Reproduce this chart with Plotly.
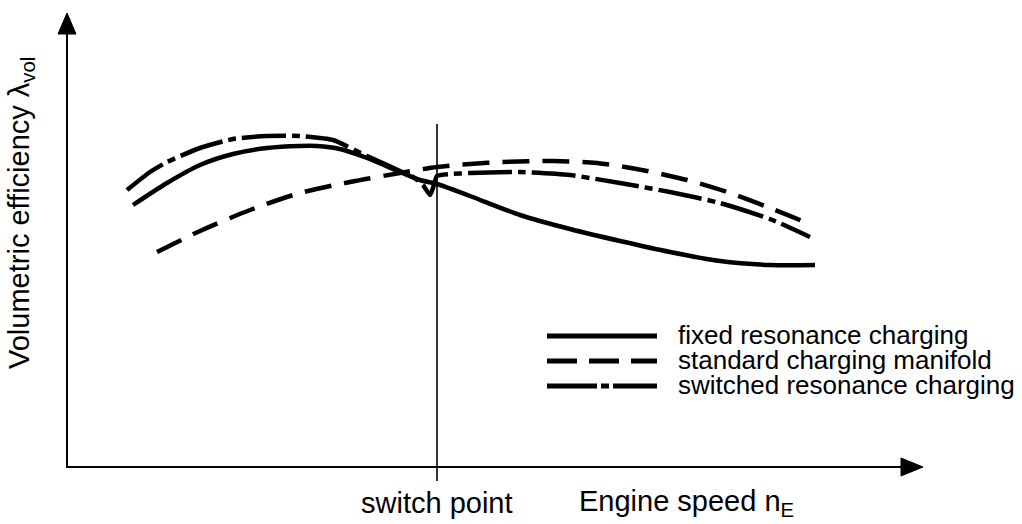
import plotly.graph_objects as go

# ---- data (schematic units: engine speed offset, volumetric efficiency offset) ----
fixed_x = [66, 100, 133, 166, 200, 233, 250, 273, 300, 333, 353, 370, 403, 453, 503, 553, 603, 653, 703, 748]
fixed_y = [262, 284, 302, 313, 319, 321, 321, 318, 309, 295, 287, 283, 271, 252, 238, 226, 215, 206, 202, 202]

standard_x = [90, 133, 183, 233, 283, 333, 370, 403, 436, 486, 530, 580, 620, 660, 703, 745]
standard_y = [215, 236, 257, 274, 285, 294, 300, 303, 305, 306, 304, 296, 287, 275, 259, 242]

switched_x = [60, 83, 100, 133, 166, 200, 233, 266, 300, 333, 346, 356, 363, 366, 370, 383, 403, 453, 503, 553, 603, 653, 703, 743]
switched_y = [277, 295, 305, 319, 328, 331, 331, 327, 311, 296, 290, 282, 272, 279, 291, 293, 294, 295, 292, 284, 275, 264, 248, 230]

switch_point_x = 370
series_names = ["fixed resonance charging", "standard charging manifold", "switched resonance charging"]

# ---- figure geometry ----
W, H = 1022, 524
X0, Y0 = 67, 467  # pixel position of the origin


def px(x):  # pixel x -> data x
    return x - X0


def py(y):  # pixel y -> data y
    return Y0 - y


FONT = "Liberation Sans, Arial, Helvetica, sans-serif"
LW = 4.5
DASH = "27px,13px"
DASHDOT = "44px,6px,8px,6px"

fig = go.Figure()
fig.add_trace(go.Scatter(x=fixed_x, y=fixed_y, mode="lines", name=series_names[0],
                         line=dict(color="black", width=LW, shape="spline", smoothing=0.8)))
fig.add_trace(go.Scatter(x=standard_x, y=standard_y, mode="lines", name=series_names[1],
                         line=dict(color="black", width=LW, dash=DASH, shape="spline", smoothing=0.8)))
fig.add_trace(go.Scatter(x=switched_x, y=switched_y, mode="lines", name=series_names[2],
                         line=dict(color="black", width=LW, dash=DASHDOT, shape="spline", smoothing=0.5)))

shapes = []
# axes lines
shapes.append(dict(type="line", xref="x", yref="y", x0=0, x1=px(905), y0=0, y1=0,
                   line=dict(color="black", width=2)))
shapes.append(dict(type="line", xref="x", yref="y", x0=0, x1=0, y0=py(468), y1=py(30),
                   line=dict(color="black", width=2)))
# switch point vertical line
shapes.append(dict(type="line", xref="x", yref="y", x0=switch_point_x, x1=switch_point_x,
                   y0=py(481), y1=py(124), line=dict(color="black", width=1.6)))
# arrowheads
shapes.append(dict(type="path", xref="x", yref="y",
                   path=f"M{px(901)},{py(458)} L{px(923)},{py(467)} L{px(901)},{py(476)} Z",
                   fillcolor="black", line=dict(color="black", width=1)))
shapes.append(dict(type="path", xref="x", yref="y",
                   path=f"M{px(58)},{py(34)} L{px(67)},{py(13)} L{px(76)},{py(34)} Z",
                   fillcolor="black", line=dict(color="black", width=1)))

# custom legend samples
leg_x0, leg_x1 = 547, 657
leg_rows = [336, 361, 386]
dashes = ["solid", "30px,12px", "50px,4px,8px,4px"]
for yy, d in zip(leg_rows, dashes):
    shapes.append(dict(type="line", xref="x", yref="y", x0=px(leg_x0), x1=px(leg_x1),
                       y0=py(yy), y1=py(yy), line=dict(color="black", width=5, dash=d)))

annotations = []
for yy, name in zip(leg_rows, series_names):
    annotations.append(dict(x=px(677), y=py(yy - 1), xref="x", yref="y", text=name, showarrow=False,
                            xanchor="left", yanchor="middle", borderpad=0,
                            font=dict(family=FONT, size=26, color="black")))

annotations.append(dict(x=switch_point_x, y=py(503), xref="x", yref="y", text="switch point",
                        showarrow=False, xanchor="center", yanchor="middle",
                        font=dict(family=FONT, size=29, color="black")))
annotations.append(dict(x=px(577), y=py(503), xref="x", yref="y", text="Engine speed n<sub>E</sub>",
                        showarrow=False, xanchor="left", yanchor="middle",
                        font=dict(family=FONT, size=29, color="black")))
annotations.append(dict(x=px(21), y=py(213), xref="x", yref="y", text="Volumetric efficiency λ<sub>vol</sub>",
                        showarrow=False, xanchor="center", yanchor="middle", textangle=-90,
                        font=dict(family=FONT, size=29, color="black")))

fig.update_layout(
    width=W, height=H,
    margin=dict(l=0, r=0, t=0, b=0),
    paper_bgcolor="white", plot_bgcolor="white",
    showlegend=False,
    xaxis=dict(range=[px(0), px(W)], visible=False, fixedrange=True),
    yaxis=dict(range=[py(H), py(0)], visible=False, fixedrange=True),
    shapes=shapes,
    annotations=annotations,
)

fig.write_html("out.html")
